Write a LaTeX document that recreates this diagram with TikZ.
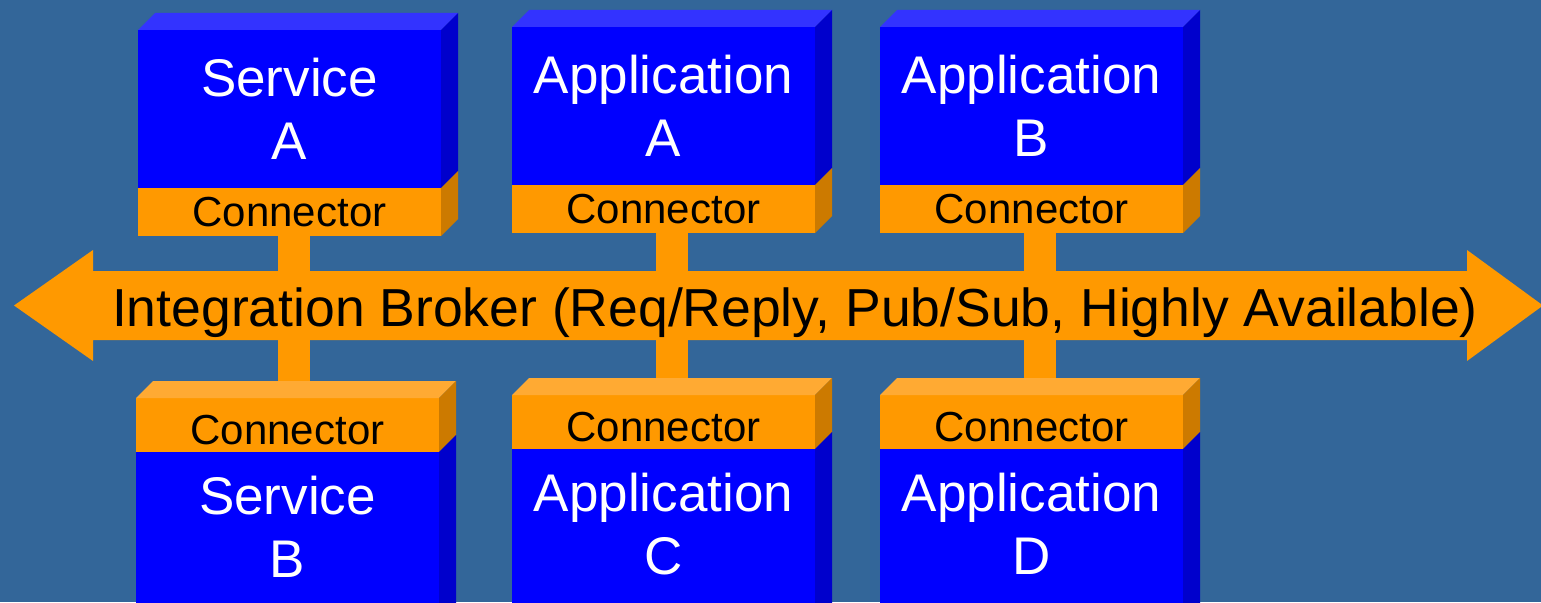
\documentclass[tikz,border=0pt]{standalone}
\usepackage{fontspec}
\setmainfont{Liberation Sans}
\usetikzlibrary{calc}
\definecolor{bgc}{HTML}{336699}
\definecolor{bfront}{HTML}{0000FF}
\definecolor{btop}{HTML}{3333FF}
\definecolor{bside}{HTML}{0000CC}
\definecolor{ofront}{HTML}{FF9900}
\definecolor{otop}{HTML}{FFAA33}
\definecolor{oside}{HTML}{CC7A00}
\newcommand{\bigtxt}{\fontsize{53}{63}\selectfont}
\newcommand{\brktxt}{\fontsize{53.5}{63}\selectfont}
\newcommand{\contxt}{\fontsize{42}{50}\selectfont}
\tikzset{
  bluebox/.style={fill=bfront, text=white, font=\bigtxt, align=center, inner sep=0pt, outer sep=0pt, minimum width=303pt},
  conbox/.style={fill=ofront, text=black, font=\contxt, inner sep=0pt, outer sep=0pt, minimum width=303pt},
  conboxlow/.style={conbox, text height=38pt, text depth=0pt},
  stemline/.style={draw=ofront, line width=32pt},
}
% top box: #1 name, #2 x, #3 y of front top, #4 text
\newcommand{\topbox}[4]{%
  \node[bluebox, minimum height=158pt, anchor=north west] (#1) at (#2,#3) {#4};
  \node[conbox, minimum height=48pt, anchor=north] (#1c) at (#1.south) {Connector};
  \fill[btop] (#1.north west) -- ++(17,-17) -- ($(#1.north east)+(17,-17)$) -- (#1.north east) -- cycle;
  \fill[bside] (#1.north east) -- ++(17,-17) -- ($(#1.south east)+(17,-17)$) -- (#1.south east) -- cycle;
  \fill[oside] (#1c.north east) -- ++(17,-17) -- ($(#1c.south east)+(17,-17)$) -- (#1c.south east) -- cycle;
}
% bottom box (its lower part runs off the picture)
\newcommand{\botbox}[4]{%
  \node[conboxlow, minimum height=54pt, anchor=north west] (#1c) at (#2,#3) {Connector};
  \fill[bfront] ($(#1c.south west)+(0,140)$) rectangle ($(#1c.south east)+(0,180)$);
  \node[bluebox, minimum height=150pt, anchor=north] (#1) at (#1c.south) {#4};
  \fill[otop] (#1c.north west) -- ++(17,-17) -- ($(#1c.north east)+(17,-17)$) -- (#1c.north east) -- cycle;
  \fill[oside] (#1c.north east) -- ++(17,-17) -- ($(#1c.south east)+(17,-17)$) -- (#1c.south east) -- cycle;
  \fill[bside] (#1.north east) -- ++(17,-17) -- ($(#1.south east)+(17,20)$) -- ($(#1.south east)+(0,20)$) -- cycle;
}
\begin{document}
\begin{tikzpicture}[x=1pt,y=-1pt]
\useasboundingbox (0,0) rectangle (1541,602);
\fill[bgc] (0,0) rectangle (1541,602);
\clip (0,0) rectangle (1541,602);
% stems (behind everything)
\coordinate (s1) at (293.5,0);
\coordinate (s2) at (672,0);
\coordinate (s3) at (1040,0);
\coordinate (st) at (0,230);
\coordinate (sb) at (0,400);
\draw[stemline] (s1 |- st) -- (s1 |- sb);
\draw[stemline] (s2 |- st) -- (s2 |- sb);
\draw[stemline] (s3 |- st) -- (s3 |- sb);
% broker arrow
\fill[ofront] (14,305.5) -- (93,250) -- (93,271) -- (1467,271) -- (1467,250) -- (1543,305.5)
  -- (1467,361) -- (1467,340) -- (93,340) -- (93,361) -- cycle;
\node[font=\brktxt, text=black, inner sep=0pt, anchor=base] (broker) at (795,326)
  {Integration Broker (Req/Reply, Pub/Sub, Highly Available)};
% boxes
\topbox{SA}{138}{30}{Service\\A}
\topbox{AA}{512}{27}{Application\\A}
\topbox{AB}{880}{27}{Application\\B}
\botbox{SB}{136}{398}{Service\\B}
\botbox{AC}{512}{395}{Application\\C}
\botbox{AD}{880}{395}{Application\\D}
\end{tikzpicture}
\end{document}
